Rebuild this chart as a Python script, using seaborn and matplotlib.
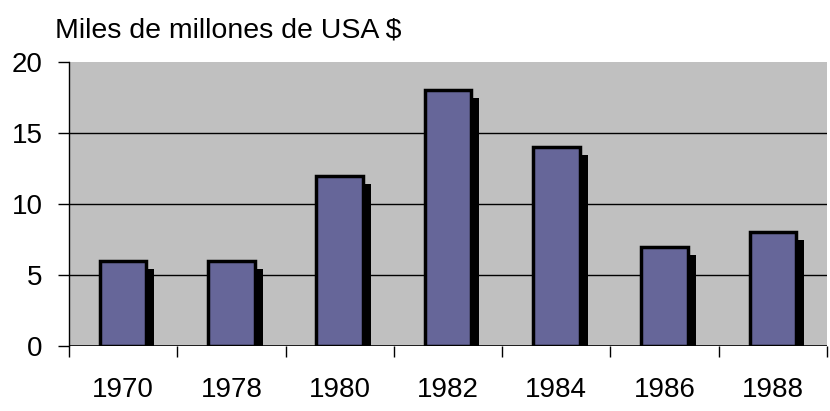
import matplotlib
matplotlib.use("Agg")
import matplotlib.pyplot as plt
import matplotlib.transforms as mtransforms
from matplotlib.ticker import FixedLocator
import pandas as pd
import seaborn as sns

# data
years = ["1970", "1978", "1980", "1982", "1984", "1986", "1988"]
values = [6, 6, 12, 18, 14, 7, 8]

df = pd.DataFrame({"year": years, "value": values})

sns.set_style("white")
plt.rcParams["font.family"] = ["Liberation Sans", "DejaVu Sans"]
plt.rcParams["text.color"] = "black"
plt.rcParams["xtick.color"] = "black"
plt.rcParams["ytick.color"] = "black"

fig = plt.figure(figsize=(8.3, 4.11), dpi=100)
ax = fig.add_axes([69 / 830, 65 / 411, 758 / 830, 284 / 411])
ax.set_facecolor("#C0C0C0")

# shadow bars (black, shifted right/down)
sns.barplot(data=df, x="year", y="value", color="black", width=0.43,
            saturation=1, ax=ax, zorder=2)
n = len(years)
offset = mtransforms.offset_copy(ax.transData, fig=fig, x=8, y=-8, units="dots")
for p in ax.patches[:n]:
    p.set_transform(offset)
    p.set_edgecolor("none")

# main bars
sns.barplot(data=df, x="year", y="value", color="#666699", width=0.43,
            saturation=1, edgecolor="black", linewidth=2.5, ax=ax, zorder=3)

ax.set_ylim(0, 20)
ax.set_xlim(-0.5, n - 0.5)
ax.set_yticks([0, 5, 10, 15, 20])
for yv in [5, 10, 15]:
    ax.axhline(yv, color="black", linewidth=1, zorder=1)
ax.axhline(0, color="black", linewidth=1.2, zorder=4)

for s in ["top", "right", "bottom"]:
    ax.spines[s].set_visible(False)
ax.spines["left"].set_color("black")
ax.spines["left"].set_linewidth(1)

ax.xaxis.set_minor_locator(FixedLocator([i - 0.5 for i in range(n + 1)]))
ax.tick_params(axis="x", which="major", length=0, pad=22, labelsize=20,
               labelcolor="black")
ax.tick_params(axis="x", which="minor", length=8, width=1, color="black",
               direction="out", bottom=True)
ax.tick_params(axis="y", which="major", length=8, width=1, color="black",
               direction="out", left=True, pad=11, labelsize=20,
               labelcolor="black")
ax.set_xlabel("")
ax.set_ylabel("")

fig.text(55 / 830, 1 - 30 / 411, "Miles de millones de USA $", fontsize=20.5,
         color="black", ha="left", va="center")

fig.savefig("out.png", dpi=100)
